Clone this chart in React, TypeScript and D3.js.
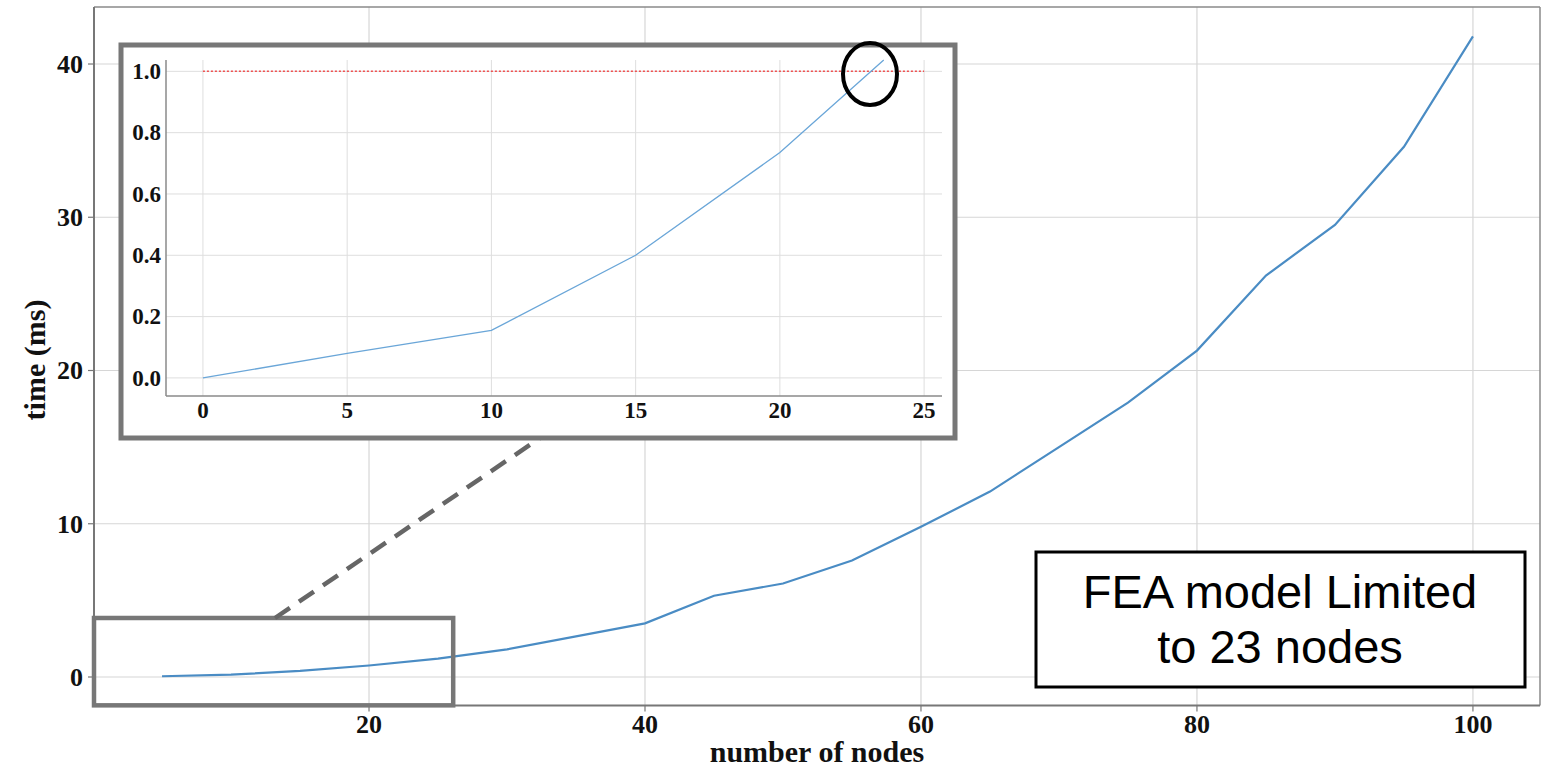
import React from 'react';
import * as d3 from 'd3';

// main series: compute time vs number of nodes
const nodes = [5, 10, 15, 20, 25, 30, 35, 40, 45, 50, 55, 60, 65, 70, 75, 80, 85, 90, 95, 100];
const timeMs = [0.05, 0.15, 0.4, 0.75, 1.2, 1.8, 2.65, 3.5, 5.3, 6.1, 7.6, 9.8, 12.1, 15.0, 17.9, 21.3, 26.2, 29.5, 34.6, 41.8];
const xTicks = [20, 40, 60, 80, 100];
const yTicks = [0, 10, 20, 30, 40];

// inset (zoomed) series
const insetNodes = [0, 5, 10, 15, 20, 23.6];
const insetTime = [0, 0.08, 0.155, 0.4, 0.735, 1.037];
const insetXTicks = [0, 5, 10, 15, 20, 25];
const insetYTicks = [0, 0.2, 0.4, 0.6, 0.8, 1.0];
const limitValue = 1.0;

// zoom region (data coords) and the note
const zoomRegion = { x0: 0.07, x1: 26.1, y0: -1.85, y1: 3.85 };
const noteLines = ['FEA model Limited', 'to 23 nodes'];

const W = 1548;
const H = 773;
const serif = '"Liberation Serif", "Times New Roman", serif';

export default function App() {
  const x = d3.scaleLinear().domain([0.07, 104.86]).range([94, 1540]);
  const y = d3.scaleLinear().domain([-1.86, 43.72]).range([705.5, 7]);

  const ix = d3.scaleLinear().domain([-1.28, 25.62]).range([166, 942]);
  const iy = d3.scaleLinear().domain([-0.059, 1.037]).range([396, 60]);

  const pts = nodes.map((n, i) => [n, timeMs[i]] as [number, number]);
  const ipts = insetNodes.map((n, i) => [n, insetTime[i]] as [number, number]);

  const line = d3.line<[number, number]>().x(d => x(d[0])).y(d => y(d[1]));
  const iline = d3.line<[number, number]>().x(d => ix(d[0])).y(d => iy(d[1]));

  const [x0, x1] = x.range();
  const [y0, y1] = y.range();
  const [ix0, ix1] = ix.range();
  const [iy0, iy1] = iy.range();

  const zx0 = x(zoomRegion.x0);
  const zx1 = x(zoomRegion.x1);
  const zy0 = y(zoomRegion.y1);
  const zy1 = y(zoomRegion.y0);

  // inset frame box
  const box = { x: 121, y: 45, w: 834, h: 393 };

  return (
    <svg width={W} height={H} style={{ position: 'fixed', left: 0, top: 0, background: '#fff' }}>
      {/* main grid */}
      {xTicks.map(t => (
        <line key={'gx' + t} x1={x(t)} x2={x(t)} y1={y1} y2={y0} stroke="#d6d6d6" strokeWidth={1.2} />
      ))}
      {yTicks.map(t => (
        <line key={'gy' + t} x1={x0} x2={x1} y1={y(t)} y2={y(t)} stroke="#d6d6d6" strokeWidth={1.2} />
      ))}

      {/* main frame */}
      <line x1={x0} x2={x1} y1={y1} y2={y1} stroke="#8a8a8a" strokeWidth={1.5} />
      <line x1={x1} x2={x1} y1={y1} y2={y0} stroke="#8a8a8a" strokeWidth={1.5} />
      <line x1={x0} x2={x0} y1={y1} y2={y0} stroke="#777" strokeWidth={2} />
      <line x1={x0} x2={x1} y1={y0} y2={y0} stroke="#777" strokeWidth={2} />

      {/* ticks + labels */}
      {xTicks.map(t => (
        <g key={'tx' + t}>
          <line x1={x(t)} x2={x(t)} y1={y0} y2={y0 + 6} stroke="#777" strokeWidth={1.2} />
          <text x={x(t)} y={733} textAnchor="middle" fontFamily={serif} fontWeight="bold" fontSize={26} fill="#111">{t}</text>
        </g>
      ))}
      {yTicks.map(t => (
        <g key={'ty' + t}>
          <line x1={x0 - 6} x2={x0} y1={y(t)} y2={y(t)} stroke="#777" strokeWidth={1.2} />
          <text x={83} y={y(t)} dy="0.34em" textAnchor="end" fontFamily={serif} fontWeight="bold" fontSize={26} fill="#111">{t}</text>
        </g>
      ))}
      <text x={817} y={762} textAnchor="middle" fontFamily={serif} fontWeight="bold" fontSize={30} fill="#111">number of nodes</text>
      <text transform="translate(45,360) rotate(-90)" textAnchor="middle" fontFamily={serif} fontWeight="bold" fontSize={30} fill="#111">time (ms)</text>

      {/* main series */}
      <path d={line(pts) || ''} fill="none" stroke="#4a8cc4" strokeWidth={2.2} />

      {/* zoom rect + connector */}
      <rect x={zx0} y={zy0} width={zx1 - zx0} height={zy1 - zy0} fill="none" stroke="#777" strokeWidth={4.5} />
      <line x1={275} y1={zy0} x2={540} y2={box.y + box.h} stroke="#666" strokeWidth={4.5} strokeDasharray="18 11" />

      {/* inset */}
      <rect x={box.x} y={box.y} width={box.w} height={box.h} fill="#fff" stroke="#777" strokeWidth={5} />
      {insetXTicks.map(t => (
        <line key={'igx' + t} x1={ix(t)} x2={ix(t)} y1={iy1} y2={iy0} stroke="#dedede" strokeWidth={1} />
      ))}
      {insetYTicks.map(t => (
        <line key={'igy' + t} x1={ix0} x2={ix1} y1={iy(t)} y2={iy(t)} stroke="#dedede" strokeWidth={1} />
      ))}
      <line x1={ix0} x2={ix0} y1={iy1} y2={iy0} stroke="#8a8a8a" strokeWidth={1.5} />
      <line x1={ix0} x2={ix1} y1={iy0} y2={iy0} stroke="#8a8a8a" strokeWidth={1.5} />
      {insetXTicks.map(t => (
        <text key={'itx' + t} x={ix(t)} y={418} textAnchor="middle" fontFamily={serif} fontWeight="bold" fontSize={23} fill="#111">{t}</text>
      ))}
      {insetYTicks.map(t => (
        <text key={'ity' + t} x={161} y={iy(t)} dy="0.34em" textAnchor="end" fontFamily={serif} fontWeight="bold" fontSize={23} fill="#111">{t.toFixed(1)}</text>
      ))}
      <line x1={ix(0)} x2={ix(25)} y1={iy(limitValue)} y2={iy(limitValue)} stroke="#f05050" strokeWidth={1.5} strokeDasharray="2 2" />
      <path d={iline(ipts) || ''} fill="none" stroke="#6aa6d8" strokeWidth={1.3} />
      <ellipse cx={870} cy={74} rx={27} ry={31} fill="none" stroke="#000" strokeWidth={4} />

      {/* note */}
      <rect x={1036} y={552} width={489} height={135} fill="#fff" stroke="#000" strokeWidth={3} />
      {noteLines.map((s, i) => (
        <text key={s} x={1280} y={608 + i * 55} textAnchor="middle" fontFamily='"Liberation Sans", Arial, sans-serif' fontSize={47} fill="#000">{s}</text>
      ))}
    </svg>
  );
}
